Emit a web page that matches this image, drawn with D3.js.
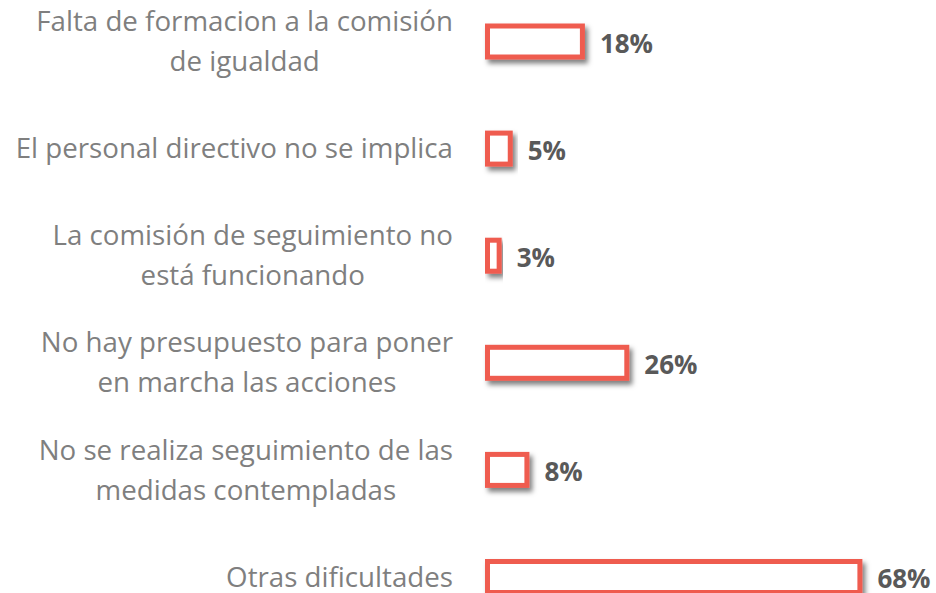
<!DOCTYPE html>
<html>
<head>
<meta charset="utf-8">
<script src="https://cdn.jsdelivr.net/npm/d3@7"></script>
<style>
    body { margin: 0; background: #ffffff; }
    .label { font-family: "Open Sans", sans-serif; font-size: 27.7px; fill: #7f7f7f; }
    .value { font-family: "Open Sans", sans-serif; font-size: 26px; font-weight: bold; fill: #595959; }
    .bar { fill: #ffffff; stroke: #ef5b50; stroke-width: 5; }
</style>
</head>
<body>
<div class="content"></div>
<script>
// categories, top to bottom ("\n" marks the line break of the label)
var categories = [
    "Falta de formacion a la comisión\nde igualdad",
    "El personal directivo no se implica",
    "La comisión de seguimiento no\nestá funcionando",
    "No hay presupuesto para poner\nen marcha las acciones",
    "No se realiza seguimiento de las\nmedidas contempladas",
    "Otras dificultades"
];
var values = [0.18, 0.05, 0.03, 0.26, 0.08, 0.68];
var valueLabels = ["18%", "5%", "3%", "26%", "8%", "68%"];

var chartParams = {
    "parentDiv": "div.content",
    "fullWidth": 936,
    "fullHeight": 593,
    "barLeft": 485,
    "pxPerUnit": 555,
    "labelRight": 453,
    "firstCenter": 41.5,
    "lastCenter": 577,
    "barHeight": 36,
    "lineHeight": 40
};

var svg = d3.select(chartParams.parentDiv).append("svg")
    .attr("width", chartParams.fullWidth)
    .attr("height", chartParams.fullHeight);

//shadow under the bars
var filter = svg.append("defs").append("filter")
    .attr("id", "shadow")
    .attr("x", "-20%").attr("y", "-40%")
    .attr("width", "150%").attr("height", "200%");
filter.append("feDropShadow")
    .attr("dx", 3).attr("dy", 4)
    .attr("stdDeviation", 2.5)
    .attr("flood-color", "#000")
    .attr("flood-opacity", 0.5);

var x = d3.scaleLinear()
    .domain([0, 1])
    .range([chartParams.barLeft, chartParams.barLeft + chartParams.pxPerUnit]);

var y = d3.scalePoint()
    .domain(categories)
    .range([chartParams.firstCenter, chartParams.lastCenter]);

var sw = 5;
var bh = chartParams.barHeight;

//bars
svg.selectAll(".bar")
    .data(values)
.enter().append("rect")
    .attr("class", "bar")
    .attr("filter", "url(#shadow)")
    .attr("x", x(0) + sw / 2)
    .attr("y", function(d, i){return y(categories[i]) - bh / 2 + sw / 2;})
    .attr("width", function(d){return Math.max(x(d) - x(0) - sw, 1);})
    .attr("height", bh - sw);

//value labels
svg.selectAll(".value")
    .data(values)
.enter().append("text")
    .attr("class", "value")
    .attr("x", function(d){return x(d) + 15;})
    .attr("y", function(d, i){return y(categories[i]) + 2;})
    .attr("dy", "0.35em")
    .text(function(d, i){return valueLabels[i];});

//category labels
var labels = svg.selectAll(".label")
    .data(categories)
.enter().append("text")
    .attr("class", "label")
    .attr("text-anchor", "middle");

labels.each(function(d){
    var lines = d.split("\n");
    var t = d3.select(this);
    var lh = chartParams.lineHeight;
    var top = y(d) - (lines.length - 1) * lh / 2;
    var maxW = 0;
    lines.forEach(function(line, k){
        var ts = t.append("tspan")
            .attr("y", top + k * lh)
            .attr("dy", "0.35em")
            .text(line);
        maxW = Math.max(maxW, ts.node().getComputedTextLength());
    });
    // block right-aligned, lines centered inside it
    t.selectAll("tspan").attr("x", chartParams.labelRight - maxW / 2);
});
</script>
</body>
</html>
